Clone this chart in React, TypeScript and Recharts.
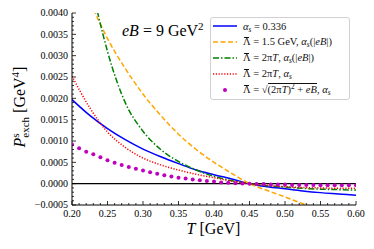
import React from "react";
import {
  ComposedChart,
  Line,
  XAxis,
  YAxis,
  ReferenceLine,
  Legend,
  Customized,
} from "recharts";

// temperature grid for the smooth curves (GeV)
const T_LINE = [
  0.2, 0.225, 0.25, 0.275, 0.3, 0.325, 0.35, 0.375, 0.4, 0.425, 0.45, 0.475,
  0.5, 0.525, 0.55, 0.575, 0.6,
];

// alpha_s = 0.336
const P_FIXED = [
  0.00197, 0.0016, 0.00129, 0.00103, 0.00081, 0.00063, 0.00047, 0.00032,
  0.00021, 0.00011, 0.0, -0.00007, -0.00012, -0.00017, -0.00021, -0.00024,
  -0.00027,
];
// Lambda = 1.5 GeV, alpha_s(|eB|)
const P_LAMBDA15 = [
  0.0054, 0.0043, 0.0034, 0.0027, 0.0021, 0.0016, 0.00116, 0.0008, 0.0005,
  0.00024, 0.0, -0.00016, -0.00031, -0.00047, -0.00061, -0.00075, -0.00088,
];
// Lambda = 2 pi T, alpha_s(|eB|)
const P_2PIT_EB = [
  0.0075, 0.0049, 0.0031, 0.0019, 0.00123, 0.0008, 0.00052, 0.00032, 0.00017,
  0.00007, 0.0, -0.00005, -0.00008, -0.00011, -0.00013, -0.00014, -0.00015,
];
// Lambda = 2 pi T, alpha_s
const P_2PIT = [
  0.00252, 0.00178, 0.00121, 0.00085, 0.0006, 0.00044, 0.00032, 0.00022,
  0.00014, 0.00006, 0.0, -0.00004, -0.00007, -0.00009, -0.0001, -0.00011,
  -0.00011,
];

// Lambda = sqrt((2 pi T)^2 + eB), alpha_s  (markers)
const T_DOTS = [
  0.2, 0.21, 0.22, 0.23, 0.24, 0.25, 0.26, 0.27, 0.28, 0.29, 0.3, 0.31, 0.32,
  0.33, 0.34, 0.35, 0.36, 0.37, 0.38, 0.39, 0.4, 0.41, 0.42, 0.43, 0.44, 0.45,
  0.46, 0.47, 0.48, 0.49, 0.5, 0.51, 0.52, 0.53, 0.54, 0.55, 0.56, 0.57, 0.58,
  0.59, 0.6,
];
const P_DOTS = [
  0.00092, 0.00083, 0.00075, 0.00069, 0.00062, 0.00055, 0.00049, 0.00044,
  0.00039, 0.00035, 0.00031, 0.00027, 0.00023, 0.0002, 0.00017, 0.00014,
  0.00012, 0.0001, 0.00008, 0.00006, 0.00005, 0.00003, 0.00002, 0.00001,
  0.000005, 0.0, -0.00001, -0.00001, -0.00002, -0.00002, -0.00002, -0.00003,
  -0.00003, -0.00003, -0.00003, -0.00004, -0.00004, -0.00004, -0.00004,
  -0.00004, -0.00004,
];

const X_MAJOR = [0.2, 0.25, 0.3, 0.35, 0.4, 0.45, 0.5, 0.55, 0.6];
const Y_MAJOR = [
  -0.0005, 0, 0.0005, 0.001, 0.0015, 0.002, 0.0025, 0.003, 0.0035, 0.004,
];
const X_TICKS = Array.from({ length: 41 }, (_, i) => (20 + i) / 100);
const Y_TICKS = Array.from({ length: 46 }, (_, i) => (i - 5) / 10000);

const toRows = (ts: number[], ps: number[]) =>
  ts.map((T, i) => ({ T, p: ps[i] }));

const fixedData = toRows(T_LINE, P_FIXED);
const lambdaData = toRows(T_LINE, P_LAMBDA15);
const twoPiEbData = toRows(T_LINE, P_2PIT_EB);
const twoPiData = toRows(T_LINE, P_2PIT);
const dotData = toRows(T_DOTS, P_DOTS);

const FONT = '"Liberation Serif", "DejaVu Serif", serif';
const isMajor = (v: number, list: number[]) =>
  list.some((m) => Math.abs(m - v) < 1e-9);

const BottomTick = (props: any) => {
  const { x, y, payload } = props;
  const major = isMajor(payload.value, X_MAJOR);
  return (
    <g>
      <line x1={x} x2={x} y1={y} y2={y - (major ? 4 : 2)} stroke="#000" strokeWidth={0.8} />
      {major && (
        <text x={x} y={y + 11.5} textAnchor="middle" fontSize={10} fontFamily={FONT} fill="#000">
          {payload.value.toFixed(2)}
        </text>
      )}
    </g>
  );
};

const TopTick = (props: any) => {
  const { x, y, payload } = props;
  const major = isMajor(payload.value, X_MAJOR);
  return <line x1={x} x2={x} y1={y} y2={y + (major ? 4 : 2)} stroke="#000" strokeWidth={0.8} />;
};

const LeftTick = (props: any) => {
  const { x, y, payload } = props;
  const major = isMajor(payload.value, Y_MAJOR);
  return (
    <g>
      <line x1={x} x2={x + (major ? 4 : 2)} y1={y} y2={y} stroke="#000" strokeWidth={0.8} />
      {major && (
        <text x={x - 4} y={y + 3.4} textAnchor="end" fontSize={10} fontFamily={FONT} fill="#000">
          {payload.value.toFixed(4).replace("-", "\u2212")}
        </text>
      )}
    </g>
  );
};

const RightTick = (props: any) => {
  const { x, y, payload } = props;
  const major = isMajor(payload.value, Y_MAJOR);
  return <line x1={x} x2={x - (major ? 4 : 2)} y1={y} y2={y} stroke="#000" strokeWidth={0.8} />;
};

const Labels = () => (
  <g fontFamily={FONT} fill="#000">
    <text transform="translate(25,107) rotate(-90)" textAnchor="middle" fontSize={16}>
      <tspan fontStyle="italic">P</tspan>
      <tspan fontSize={11} dy={-6}>s</tspan>
      <tspan fontSize={11} dx={-4.3} dy={10}>exch</tspan>
      <tspan dy={-4}> [GeV</tspan>
      <tspan fontSize={11} dy={-6}>4</tspan>
      <tspan dy={6}>]</tspan>
    </text>
    <text x={213.5} y={234} textAnchor="middle" fontSize={16}>
      <tspan fontStyle="italic">T</tspan> [GeV]
    </text>
    <text x={122} y={35.5} fontSize={16}>
      <tspan fontStyle="italic">eB</tspan> = 9 GeV
      <tspan fontSize={11} dy={-6}>2</tspan>
    </text>
  </g>
);

const sub = { fontSize: "70%", verticalAlign: "-0.25em", lineHeight: 0, fontStyle: "italic" } as const;
const A = () => (
  <>
    <i>α</i>
    <span style={sub}>s</span>
  </>
);
const L = () => (
  <span style={{ display: "inline-block", position: "relative", lineHeight: 1 }}>
    Λ
    <span
      style={{
        position: "absolute",
        left: "0.12em",
        right: "0.12em",
        top: "-0.02em",
        borderTop: "0.8px solid #111",
      }}
    />
  </span>
);

const LEGEND_ROWS = [
  { color: "#0000ff", dash: "", dot: false, text: <><A /> = 0.336</> },
  { color: "#ffa500", dash: "5 2.5", dot: false, text: <><L /> = 1.5 GeV, <A />(|<i>eB</i>|)</> },
  { color: "#008000", dash: "6 2 1.5 2", dot: false, text: <><L /> = 2π<i>T</i>, <A />(|<i>eB</i>|)</> },
  { color: "#ff0000", dash: "1.2 1.6", dot: false, text: <><L /> = 2π<i>T</i>, <A /></> },
  {
    color: "#bf00bf",
    dash: "",
    dot: true,
    text: (
      <>
        <L /> = √<span style={{ borderTop: "0.8px solid #111" }}>(2π<i>T</i>)<sup style={{ fontSize: "70%", lineHeight: 0 }}>2</sup> + <i>eB</i></span>, <A />
      </>
    ),
  },
];

const LegendBox = () => (
  <div
    style={{
      boxSizing: "border-box",
      width: 140,
      height: 83,
      background: "rgba(255,255,255,0.85)",
      border: "1px solid #d0d0d0",
      borderRadius: 3,
      fontFamily: FONT,
      fontSize: 10.5,
      color: "#111",
    }}
  >
    {LEGEND_ROWS.map((r, i) => (
      <div key={i} style={{ display: "flex", alignItems: "center", height: 16, whiteSpace: "nowrap" }}>
        <svg width={24} height={10} style={{ marginLeft: 2, flexShrink: 0 }}>
          {r.dot ? (
            <circle cx={12} cy={5} r={2} fill={r.color} />
          ) : (
            <line x1={0} x2={24} y1={5} y2={5} stroke={r.color} strokeWidth={1.5} strokeDasharray={r.dash} />
          )}
        </svg>
        <span style={{ marginLeft: 6 }}>{r.text}</span>
      </div>
    ))}
  </div>
);

export default function App() {
  return (
    <div style={{ position: "absolute", left: 0, top: 0, background: "#fff" }}>
      <ComposedChart width={374} height={249} margin={{ top: 13, right: 18, bottom: 14, left: 0 }}>
        <XAxis
          dataKey="T"
          type="number"
          domain={[0.2, 0.6]}
          ticks={X_TICKS}
          interval={0}
          allowDataOverflow
          height={30}
          tick={<BottomTick />}
          tickLine={false}
          tickSize={0}
          tickMargin={0}
          axisLine={{ stroke: "#000", strokeWidth: 1 }}
        />
        <XAxis
          xAxisId="top"
          orientation="top"
          dataKey="T"
          type="number"
          domain={[0.2, 0.6]}
          ticks={X_TICKS}
          interval={0}
          allowDataOverflow
          height={0}
          tick={<TopTick />}
          tickLine={false}
          tickSize={0}
          tickMargin={0}
          axisLine={{ stroke: "#000", strokeWidth: 1 }}
        />
        <YAxis
          type="number"
          domain={[-0.0005, 0.004]}
          ticks={Y_TICKS}
          interval={0}
          allowDataOverflow
          width={72}
          tick={<LeftTick />}
          tickLine={false}
          tickSize={0}
          tickMargin={0}
          axisLine={{ stroke: "#000", strokeWidth: 1 }}
        />
        <YAxis
          yAxisId="right"
          orientation="right"
          type="number"
          domain={[-0.0005, 0.004]}
          ticks={Y_TICKS}
          interval={0}
          allowDataOverflow
          width={0}
          tick={<RightTick />}
          tickLine={false}
          tickSize={0}
          tickMargin={0}
          axisLine={{ stroke: "#000", strokeWidth: 1 }}
        />
        <ReferenceLine y={0} stroke="#000" strokeWidth={1.2} />
        <Line data={fixedData} dataKey="p" type="monotone" stroke="#0000ff" strokeWidth={1.5} dot={false} activeDot={false} isAnimationActive={false} />
        <Line data={lambdaData} dataKey="p" type="monotone" stroke="#ffa500" strokeWidth={1.5} strokeDasharray="5 2.5" dot={false} activeDot={false} isAnimationActive={false} />
        <Line data={twoPiEbData} dataKey="p" type="monotone" stroke="#008000" strokeWidth={1.5} strokeDasharray="6 2 1.5 2" dot={false} activeDot={false} isAnimationActive={false} />
        <Line data={twoPiData} dataKey="p" type="monotone" stroke="#ff0000" strokeWidth={1.5} strokeDasharray="1.2 1.6" dot={false} activeDot={false} isAnimationActive={false} />
        <Line data={dotData} dataKey="p" stroke="none" dot={{ r: 2, fill: "#bf00bf", stroke: "none" }} activeDot={false} isAnimationActive={false} />
        <Line xAxisId="top" yAxisId="right" data={fixedData} dataKey="p" stroke="none" dot={false} activeDot={false} legendType="none" isAnimationActive={false} />
        <Legend
          layout="vertical"
          align="center"
          verticalAlign="middle"
          wrapperStyle={{ left: 210, top: 17, width: 140, height: 83 }}
          content={() => <LegendBox />}
        />
        <Customized component={Labels} />
      </ComposedChart>
    </div>
  );
}
